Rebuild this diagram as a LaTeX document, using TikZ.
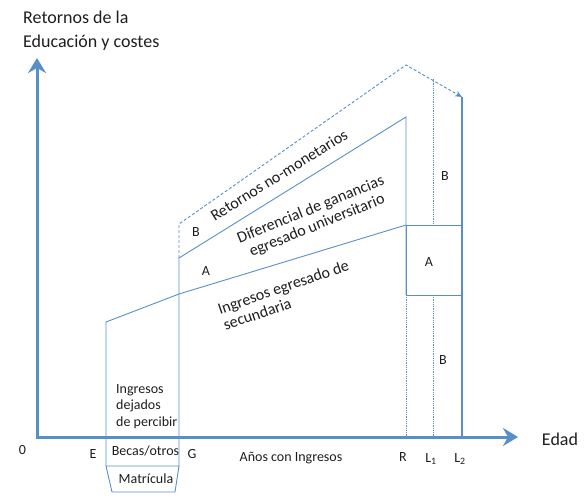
\documentclass[tikz,border=0pt]{standalone}
\usepackage{fontspec}
\setmainfont{Carlito}
\usetikzlibrary{arrows.meta}
\definecolor{chartblue}{RGB}{88,143,201}
\definecolor{labelgray}{RGB}{30,30,30}
\begin{document}
\begin{tikzpicture}[x=1pt, y=-1pt,
  every node/.style={text=labelgray, inner sep=0pt, font=\fontsize{14}{16.5}\selectfont},
  axis/.style={chartblue, line width=3pt, -{Stealth[length=15pt,width=18pt,inset=5pt]}},
  chartline/.style={chartblue, line width=0.9pt},
  guide/.style={chartblue, line width=0.8pt, densely dotted},
  nonmon/.style={chartblue, line width=0.9pt, dash pattern=on 3pt off 2pt},
  slanted/.style={font=\fontsize{16}{17}\selectfont},
  big/.style={font=\fontsize{18}{24}\selectfont}]
\useasboundingbox (0,0) rectangle (584,501);
% key points of the chart
\coordinate (O) at (37,437);
\coordinate (sec0) at (106,322);
\coordinate (g0) at (179,294);
\coordinate (r0) at (406,225);
\coordinate (uni0) at (179,258);
\coordinate (uni1) at (406,117);
\coordinate (dash0) at (179,224);
\coordinate (peak) at (406,65);
\coordinate (l2top) at (462,97);
\coordinate (l1top) at (433,79);
\coordinate (boxE) at (106,466);
\coordinate (boxG) at (179,466);
% axes
\draw[axis] ([xshift=-1.5pt]O) -- (518,437);
\draw[axis] ([yshift=1.5pt]O) -- (37,58);
% earnings profiles
\draw[chartline] (boxE) -- (sec0) -- (g0) -- (r0);
\draw[chartline] (boxG) -- (uni0) -- (uni1) -- (406,295);
\draw[chartline] (r0) rectangle (462,295);
\draw[chartline] (boxE) -- (boxG) -- (175,492) -- (112,492) -- cycle;
\draw[nonmon, -{Stealth[length=7pt,width=6pt]}] (uni0) -- (dash0) -- (peak) -- (l2top);
\draw[chartline, line width=2pt] (l2top) -- (462,437);
\draw[guide] (l1top) -- (433,225);
\draw[guide] (433,295) -- (433,437);
\draw[guide] (406,295) -- (406,437);
% labels
\node[big, anchor=north west, align=left] (title) at (23,10.5) {Retornos de la\\Educación y costes};
\node[big, anchor=base] (edad) at (560,445) {Edad};
\node[anchor=base] (zero) at (22.5,454) {0};
\node[anchor=base] (labE) at (93,458) {E};
\node[anchor=base] (labG) at (192,458) {G};
\node[anchor=base] (anos) at (291,461) {Años con Ingresos};
\node[anchor=base] (labR) at (403,461) {R};
\node[anchor=base] (labL1) at (431,462) {L\textsubscript{1}};
\node[anchor=base] (labL2) at (460,462) {L\textsubscript{2}};
\node[anchor=base] (becas) at (145.5,455) {Becas/otros};
\node[anchor=base] (matric) at (146,483) {Matrícula};
\node[anchor=north west, align=left] (dejados) at (116,384) {Ingresos\\dejados\\de percibir};
\node (leftB) at (196,232) {B};
\node (leftA) at (206,271) {A};
\node (rightB) at (445,176) {B};
\node (rightA) at (429,262) {A};
\node (lowB) at (443,360) {B};
\node[slanted, rotate=32] (noMon) at (279,175) {Retornos no-monetarios};
\node[slanted, rotate=22, align=center] (difer) at (314,218) {Diferencial de ganancias\\egresado universitario};
\node[slanted, rotate=19, align=left] (secund) at (286,295) {Ingresos egresado de\\secundaria};
\end{tikzpicture}
\end{document}
